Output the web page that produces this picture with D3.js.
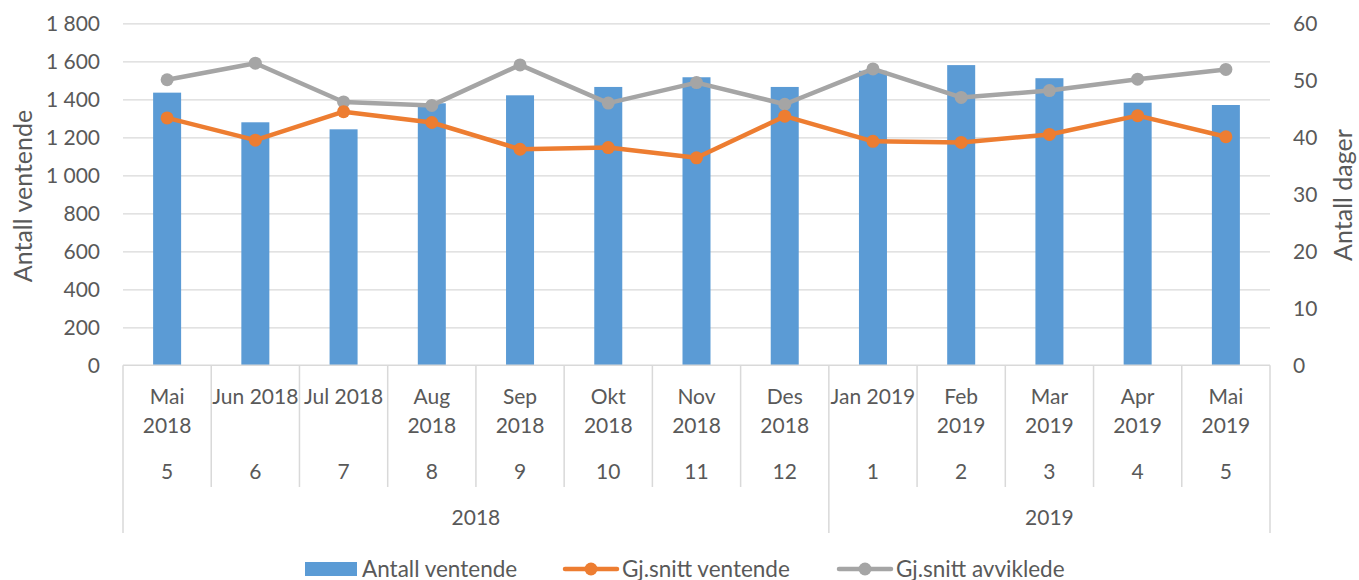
<!DOCTYPE html>
<html>
<head>
<meta charset="utf-8">
<script src="https://cdn.jsdelivr.net/npm/d3@7"></script>
<style>
  body { margin: 0; background: #fff; }
  text { font-family: Lato, "Open Sans", sans-serif; fill: #595959; }
</style>
</head>
<body>
<div id="chart"></div>
<script>
// categories (month labels, as wrapped in the original)
var monthLabels = [
    ["Mai", "2018"], ["Jun 2018"], ["Jul 2018"], ["Aug", "2018"], ["Sep", "2018"],
    ["Okt", "2018"], ["Nov", "2018"], ["Des", "2018"], ["Jan 2019"], ["Feb", "2019"],
    ["Mar", "2019"], ["Apr", "2019"], ["Mai", "2019"]
];
var monthNumbers = ["5", "6", "7", "8", "9", "10", "11", "12", "1", "2", "3", "4", "5"];
var yearLabels = ["2018", "2019"];
var yearCounts = [8, 5];

// series
var antallVentende = [1435, 1279, 1242, 1379, 1421, 1465, 1516, 1465, 1550, 1580, 1511, 1382, 1370];
var gjsnittVentende = [43.4, 39.5, 44.5, 42.6, 37.9, 38.2, 36.4, 43.7, 39.3, 39.1, 40.5, 43.8, 40.1];
var gjsnittAvviklede = [50.1, 53.0, 46.2, 45.6, 52.7, 46.0, 49.6, 45.8, 52.0, 47.0, 48.2, 50.2, 51.9];

// tick labels
var leftTicks = [0, 200, 400, 600, 800, 1000, 1200, 1400, 1600, 1800];
var rightTicks = [0, 10, 20, 30, 40, 50, 60];

var width = 1359, height = 580;
var plotLeft = 123, plotRight = 1270, plotTop = 23.3, plotBottom = 365.3;

var svg = d3.select("#chart").append("svg")
    .attr("width", width)
    .attr("height", height);

var idx = d3.range(monthLabels.length);
var x = d3.scaleBand().domain(idx).range([plotLeft, plotRight]).padding(0);
var yLeft = d3.scaleLinear().domain([0, 1800]).range([plotBottom, plotTop]);
var yRight = d3.scaleLinear().domain([0, 60]).range([plotBottom, plotTop]);

var nb = d3.formatLocale({decimal: ",", thousands: "\u00a0", grouping: [3], currency: ["", ""]});
var fmt = nb.format(",");

// gridlines
svg.append("g")
    .attr("transform", "translate(" + plotLeft + ",0)")
    .call(d3.axisLeft(yLeft).tickValues(leftTicks.slice(1)).tickSize(-(plotRight - plotLeft)).tickFormat(""))
    .call(function (g) {
        g.select(".domain").remove();
        g.selectAll("line").attr("stroke", "#d9d9d9").attr("stroke-width", 1.3);
    });

// left axis
svg.append("g")
    .attr("transform", "translate(" + (plotLeft - 23) + ",0)")
    .call(d3.axisLeft(yLeft).tickValues(leftTicks).tickSize(0).tickFormat(fmt))
    .call(function (g) {
        g.select(".domain").remove();
        g.selectAll("text").attr("x", 0).style("font-size", "21px").attr("fill", "#595959")
            .style("font-family", "Lato, sans-serif");
    });

// right axis
svg.append("g")
    .attr("transform", "translate(" + (plotRight + 23) + ",0)")
    .call(d3.axisRight(yRight).tickValues(rightTicks).tickSize(0))
    .call(function (g) {
        g.select(".domain").remove();
        g.selectAll("text").attr("x", 0).style("font-size", "21px").attr("fill", "#595959")
            .style("font-family", "Lato, sans-serif");
    });

// axis titles
svg.append("text")
    .attr("transform", "translate(32,196) rotate(-90)")
    .attr("text-anchor", "middle")
    .style("font-size", "25px")
    .text("Antall ventende");
svg.append("text")
    .attr("transform", "translate(1352,195) rotate(-90)")
    .attr("text-anchor", "middle")
    .style("font-size", "25px")
    .text("Antall dager");

// bars
var barW = 28;
svg.append("g").selectAll("rect")
    .data(antallVentende)
    .enter()
    .append("rect")
    .attr("x", function (d, i) { return x(i) + x.bandwidth() / 2 - barW / 2; })
    .attr("y", function (d) { return yLeft(d); })
    .attr("width", barW)
    .attr("height", function (d) { return yLeft(0) - yLeft(d); })
    .attr("fill", "#5b9bd5");

// category axis
var axisG = svg.append("g").attr("stroke", "#d9d9d9").attr("stroke-width", 1.5);
axisG.append("line").attr("x1", plotLeft).attr("x2", plotRight).attr("y1", plotBottom).attr("y2", plotBottom);
var yearBounds = [0];
yearCounts.forEach(function (c, i) { yearBounds.push(yearBounds[i] + c); });
d3.range(monthLabels.length + 1).forEach(function (i) {
    var xx = i < monthLabels.length ? x(i) : plotRight;
    var outer = yearBounds.indexOf(i) >= 0;
    axisG.append("line")
        .attr("x1", xx).attr("x2", xx)
        .attr("y1", plotBottom).attr("y2", outer ? 533 : 487);
});

var catG = svg.append("g").attr("text-anchor", "middle").style("font-size", "21px");
monthLabels.forEach(function (lines, i) {
    var t = catG.append("text")
        .attr("x", x(i) + x.bandwidth() / 2)
        .attr("y", 404);
    lines.forEach(function (l, j) {
        t.append("tspan").attr("x", x(i) + x.bandwidth() / 2).attr("dy", j === 0 ? 0 : 29).text(l);
    });
});
catG.selectAll(".num")
    .data(monthNumbers)
    .enter()
    .append("text")
    .attr("x", function (d, i) { return x(i) + x.bandwidth() / 2; })
    .attr("y", 479)
    .text(function (d) { return d; });
yearLabels.forEach(function (yl, k) {
    var x0 = x(yearBounds[k]);
    var x1 = yearBounds[k + 1] < monthLabels.length ? x(yearBounds[k + 1]) : plotRight;
    catG.append("text")
        .attr("x", (x0 + x1) / 2)
        .attr("y", 525)
        .text(yl);
});

// lines
function drawSeries(data, color) {
    var line = d3.line()
        .x(function (d, i) { return x(i) + x.bandwidth() / 2; })
        .y(function (d) { return yRight(d); });
    svg.append("path")
        .datum(data)
        .attr("d", line)
        .attr("fill", "none")
        .attr("stroke", color)
        .attr("stroke-width", 4.5)
        .attr("stroke-linejoin", "round");
    svg.append("g").selectAll("circle")
        .data(data)
        .enter()
        .append("circle")
        .attr("cx", function (d, i) { return x(i) + x.bandwidth() / 2; })
        .attr("cy", function (d) { return yRight(d); })
        .attr("r", 6.5)
        .attr("fill", color);
}
drawSeries(gjsnittAvviklede, "#a5a5a5");
drawSeries(gjsnittVentende, "#ed7d31");

// legend
var legendY = 569;
var legend = svg.append("g").style("font-size", "22.5px");
legend.append("rect").attr("x", 305).attr("y", legendY - 7).attr("width", 52).attr("height", 14).attr("fill", "#5b9bd5");
legend.append("text").attr("x", 362).attr("y", legendY + 8).text("Antall ventende");
[[565, "#ed7d31", "Gj.snitt ventende"], [839, "#a5a5a5", "Gj.snitt avviklede"]].forEach(function (e) {
    legend.append("line").attr("x1", e[0]).attr("x2", e[0] + 52).attr("y1", legendY).attr("y2", legendY)
        .attr("stroke", e[1]).attr("stroke-width", 4.5).attr("stroke-linecap", "round");
    legend.append("circle").attr("cx", e[0] + 26).attr("cy", legendY).attr("r", 6.5).attr("fill", e[1]);
    legend.append("text").attr("x", e[0] + 57).attr("y", legendY + 8).text(e[2]);
});
</script>
</body>
</html>
